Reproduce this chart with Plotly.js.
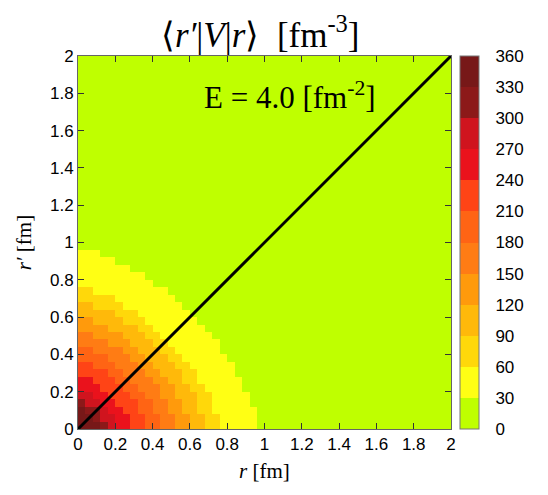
<!DOCTYPE html>
<html>
<head>
<meta charset="utf-8">
<script src="https://cdn.plot.ly/plotly-3.0.1.min.js"></script>
<style>
  html, body { margin: 0; padding: 0; background: #fff; }
</style>
</head>
<body>
<div id="vplot" style="width: 548px; height: 495px;"></div>
<script>
    // colour levels of the map (fm^-3)
    const levels = [0, 30, 60, 90, 120, 150, 180, 210, 240, 270, 300, 330, 360];
    const levelColors = ['#bfff00', '#ffff14', '#ffd80a', '#ffb90a', '#ff9a0c', '#ff7c14',
                         '#ff6414', '#ff4416', '#ea121c', '#d0141e', '#8c1919', '#771818'];

    // grid: 50 x 50 cells of 0.04 fm
    const nCells = 50;
    const cellSize = 0.04;

    // for each level, number of cells (counted from r' = 0) that reach at least that level, column by column
    const edge30  = [24, 24, 24, 23, 23, 22, 22, 21, 21, 20, 19, 19, 18, 17, 16, 15, 14, 13, 12, 10, 9, 7, 5, 3];
    const edge60  = [19, 19, 18, 18, 18, 17, 16, 16, 15, 14, 13, 12, 11, 10, 9, 8, 6, 5, 2];
    const edge90  = [17, 17, 16, 16, 16, 15, 14, 14, 13, 12, 11, 10, 9, 8, 6, 5, 2];
    const edge120 = [15, 15, 14, 14, 13, 13, 12, 11, 10, 9, 8, 7, 6, 4, 2];
    const edge150 = [13, 13, 12, 12, 11, 11, 10, 9, 8, 7, 6, 4, 2];
    const edge180 = [11, 11, 10, 10, 9, 8, 7, 6, 5, 4, 2];
    const edge210 = [9, 9, 8, 8, 7, 6, 5, 4, 2];
    const edge240 = [7, 7, 6, 5, 4, 3, 2];
    const edge270 = [5, 5, 4, 3, 2];
    const edge300 = [4, 3, 3, 1];
    const edge330 = [3, 2, 1];

    // diagonal r = r'
    const diagR = [0, 2];

    const edges = [edge30, edge60, edge90, edge120, edge150, edge180,
                   edge210, edge240, edge270, edge300, edge330];

    const z = [];
    for (let j = 0; j < nCells; j++) {
        const row = [];
        for (let c = 0; c < nCells; c++) {
            let k = 0;
            edges.forEach(e => { if (c < e.length && j < e[c]) k++; });
            row.push(levels[k] + 15);
        }
        z.push(row);
    }

    const n = levelColors.length;
    const colorscale = [];
    levelColors.forEach((col, i) => {
        colorscale.push([i / n, col]);
        colorscale.push([(i + 1) / n, col]);
    });

    const heat = {
        type: 'heatmap',
        z: z,
        x0: cellSize / 2,
        dx: cellSize,
        y0: cellSize / 2,
        dy: cellSize,
        zmin: levels[0],
        zmax: levels[levels.length - 1],
        colorscale: colorscale,
        hoverinfo: 'skip',
        colorbar: {
            x: 1.024,
            xanchor: 'left',
            xpad: 0,
            y: 0.5,
            yanchor: 'middle',
            ypad: 0,
            len: 1,
            thickness: 19,
            outlinewidth: 1,
            outlinecolor: '#777',
            tickvals: levels,
            ticks: 'outside',
            ticklen: 13,
            tickcolor: 'rgba(0,0,0,0)',
            tickfont: { family: 'Liberation Sans, Arial, sans-serif', size: 17, color: '#000' }
        }
    };

    const diag = {
        type: 'scatter',
        mode: 'lines',
        x: diagR,
        y: diagR,
        line: { color: '#000', width: 3 },
        hoverinfo: 'skip',
        showlegend: false
    };

    const axisStyle = {
        range: [0, 2],
        dtick: 0.2,
        ticks: 'inside',
        ticklen: 6,
        tickcolor: '#333',
        showline: true,
        linecolor: '#666',
        linewidth: 1,
        mirror: 'ticks',
        showgrid: false,
        zeroline: false,
        tickfont: { family: 'Liberation Sans, Arial, sans-serif', size: 17, color: '#000' }
    };

    const layout = {
        width: 548,
        height: 495,
        margin: { l: 78, r: 97, t: 56, b: 66 },
        paper_bgcolor: '#fff',
        plot_bgcolor: '#bfff00',
        showlegend: false,
        title: {
            text: '⟨<i>r′</i>|<i>V</i>|<i>r</i>⟩  [fm<sup>-3</sup>]',
            font: { family: 'Liberation Serif, Times New Roman, serif', size: 35, color: '#000' },
            x: 0.475,
            xanchor: 'center',
            y: 0.93,
            yanchor: 'middle'
        },
        xaxis: Object.assign({}, axisStyle, {
            title: {
                text: '<i>r</i> [fm]',
                font: { family: 'Liberation Serif, Times New Roman, serif', size: 21, color: '#000' },
                standoff: 9
            }
        }),
        yaxis: Object.assign({}, axisStyle, {
            title: {
                text: '<i>r′</i> [fm]',
                font: { family: 'Liberation Serif, Times New Roman, serif', size: 21, color: '#000' },
                standoff: 12
            }
        }),
        annotations: [{
            text: 'E = 4.0 [fm<sup>-2</sup>]',
            xref: 'paper',
            yref: 'paper',
            x: 0.805,
            y: 0.895,
            xanchor: 'right',
            yanchor: 'middle',
            showarrow: false,
            font: { family: 'Liberation Serif, Times New Roman, serif', size: 31, color: '#000' }
        }]
    };

    Plotly.newPlot('vplot', [heat, diag], layout, { displayModeBar: false });
</script>
</body>
</html>
